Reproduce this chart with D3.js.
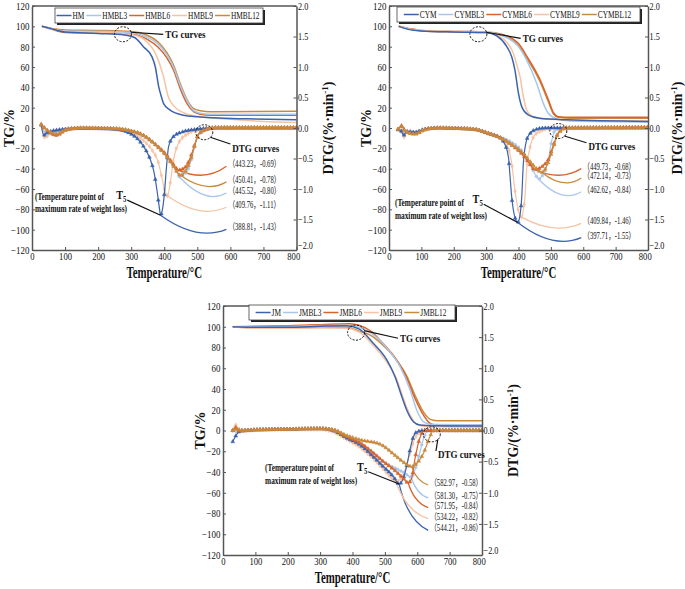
<!DOCTYPE html>
<html><head><meta charset="utf-8">
<script src="https://cdn.jsdelivr.net/npm/d3@7"></script>
<style>
body{margin:0;background:#fff}
svg{display:block}
text{font-family:"Liberation Serif","Times New Roman","Noto Sans CJK SC",serif;fill:#111}
</style>
</head><body>
<svg id="c" width="685" height="589"></svg>
<script>
// ---------------- DATA ----------------
const xTicks = [0,100,200,300,400,500,600,700,800];
const tgTicks = [-120,-100,-80,-60,-40,-20,0,20,40,60,80,100,120];
const dtgTicks = [-2,-1.5,-1,-0.5,0,0.5,1,1.5,2];

const seriesHM = ["HM","HMBL3","HMBL6","HMBL9","HMBL12"];
const seriesCYM = ["CYM","CYMBL3","CYMBL6","CYMBL9","CYMBL12"];
const seriesJM = ["JM","JMBL3","JMBL6","JMBL9","JMBL12"];

// Panel 1 TG (temperature, %)
const HM_TG = [[30,100],[60,97.5],[100,94.5],[200,93],[280,91.5],[310,89],[337,80],[363,70],[373,60],[383,41],[392,30],[398,24],[418,17.5],[458,12.5],[500,11],[550,10],[650,9],[800,8]];
const HMBL3_TG = [[30,100],[60,97.5],[100,95.5],[200,95],[300,94],[350,89],[380,83],[408,72],[428,60],[448,42],[469,27],[489,17],[509,14.5],[540,13.5],[800,13.5]];
const HMBL6_TG = [[30,100],[60,97],[100,94],[200,93.5],[300,92.5],[350,87],[380,80],[408,69],[428,57],[448,39],[469,24],[489,16],[509,13.5],[540,12.5],[800,12.5]];
const HMBL9_TG = [[30,100],[60,97],[100,95],[200,94],[300,92],[340,87],[365,78],[378,70],[398,50],[413,30],[428,22],[458,15],[509,11],[600,8.5],[700,6.5],[800,5.5]];
const HMBL12_TG = [[30,100],[60,98],[100,96.5],[200,96],[300,95],[350,91],[380,85],[408,74],[428,62],[448,44],[469,28],[489,19],[509,17],[540,16],[800,16.5]];
// Panel 1 DTG (temperature, %/min)
const HM_DTG = [[28,0.05],[35,-0.12],[45,-0.08],[60,-0.05],[100,-0.02],[150,-0.005],[250,-0.02],[300,-0.1],[337,-0.3],[358,-0.52],[368,-0.7],[378,-1.02],[385,-1.3],[388.81,-1.43],[394,-1.35],[400,-1.1],[406,-0.69],[413,-0.31],[428,-0.14],[458,-0.06],[500,-0.02],[550,0],[800,0]];
const HMBL3_DTG = [[28,0.05],[45,-0.1],[70,-0.07],[100,-0.02],[150,0],[250,-0.01],[300,-0.05],[330,-0.11],[378,-0.3],[408,-0.46],[428,-0.62],[438,-0.72],[445.52,-0.80],[455,-0.75],[465,-0.74],[480,-0.55],[494,-0.26],[504,-0.11],[529,-0.03],[560,0],[800,0]];
const HMBL6_DTG = [[28,0.06],[50,-0.06],[75,-0.12],[100,-0.04],[150,0],[250,-0.01],[300,-0.05],[330,-0.1],[378,-0.29],[408,-0.45],[428,-0.6],[443.23,-0.69],[460,-0.66],[478,-0.5],[494,-0.24],[504,-0.1],[529,-0.02],[560,0],[800,0]];
const HMBL9_DTG = [[28,0.04],[40,-0.16],[55,-0.08],[100,-0.02],[150,0],[250,-0.02],[300,-0.07],[340,-0.22],[363,-0.36],[383,-0.58],[393,-0.82],[403,-1.05],[409.76,-1.11],[418,-0.91],[428,-0.52],[443,-0.25],[469,-0.1],[500,-0.03],[550,0],[800,0]];
const HMBL12_DTG = [[28,0.05],[50,-0.05],[75,-0.1],[100,-0.03],[150,0],[250,-0.01],[300,-0.05],[330,-0.1],[378,-0.3],[408,-0.47],[428,-0.63],[450.41,-0.78],[465,-0.7],[480,-0.52],[494,-0.25],[504,-0.1],[529,-0.02],[560,0.01],[800,0.01]];
const HM_PEAKS = [[388.81,-1.43],[445.52,-0.80],[443.23,-0.69],[409.76,-1.11],[450.41,-0.78]];

// Panel 2
const CYM_TG = [[30,100],[60,97],[100,95.5],[200,94.5],[300,94],[333,90.5],[364,80],[379,70],[389,57],[400,34],[410,21],[430,13],[466,9.5],[550,8],[800,6.5]];
const CYMBL3_TG = [[30,100],[60,97.5],[100,96],[200,95],[300,94.5],[350,91],[400,80],[425,67],[456,44],[477,24],[492,14.5],[518,9],[560,7],[800,6]];
const CYMBL6_TG = [[30,100],[60,98],[100,96],[200,95],[300,94.5],[350,92],[400,83],[425,71],[466,48],[492,28],[508,15],[523,11],[560,10.5],[800,10.5]];
const CYMBL9_TG = [[30,100],[60,97.5],[100,96],[200,95],[300,94.5],[340,90],[365,84],[384,73.5],[395,62],[405,50],[415,31],[425,18],[446,11],[487,8.5],[600,7.5],[800,7]];
const CYMBL12_TG = [[30,100],[60,97.5],[100,95.5],[200,94.5],[300,94],[350,91],[400,81],[425,69],[466,46],[492,26],[508,14],[523,10.5],[560,9.5],[800,9.5]];
const CYM_DTG = [[28,-0.03],[38,-0.05],[45,-0.12],[55,-0.06],[80,-0.07],[110,-0.02],[150,0],[260,-0.02],[312,-0.1],[343,-0.16],[358,-0.27],[369,-0.48],[374,-0.8],[379,-1.13],[384,-1.34],[391,-1.5],[397.71,-1.55],[404,-1.45],[410,-1.13],[415,-0.58],[425,-0.2],[436,-0.09],[451,-0.03],[480,0],[800,0]];
const CYMBL3_DTG = [[28,-0.02],[40,-0.05],[50,-0.1],[60,-0.05],[80,-0.07],[110,-0.02],[150,0],[260,-0.02],[312,-0.1],[343,-0.15],[374,-0.22],[415,-0.41],[436,-0.6],[456,-0.8],[462.62,-0.84],[470,-0.8],[477,-0.76],[492,-0.52],[503,-0.2],[513,-0.04],[540,0],[800,0]];
const CYMBL6_DTG = [[28,-0.02],[40,0.04],[50,-0.05],[80,-0.1],[110,-0.03],[150,0],[260,-0.02],[312,-0.1],[343,-0.16],[384,-0.3],[415,-0.45],[436,-0.6],[449.73,-0.68],[465,-0.66],[480,-0.6],[492,-0.52],[508,-0.28],[523,-0.08],[549,0],[800,0.01]];
const CYMBL9_DTG = [[28,-0.02],[40,-0.08],[46,-0.15],[55,-0.05],[80,-0.07],[110,-0.02],[150,0],[260,-0.02],[312,-0.09],[343,-0.16],[364,-0.27],[379,-0.58],[389,-1.02],[401,-1.38],[409.84,-1.46],[416,-1.3],[420,-1.13],[425,-0.69],[436,-0.31],[451,-0.11],[477,-0.03],[500,0],[800,0]];
const CYMBL12_DTG = [[28,-0.02],[40,0.02],[50,-0.06],[80,-0.1],[110,-0.03],[150,0],[260,-0.02],[312,-0.1],[343,-0.16],[384,-0.29],[415,-0.42],[436,-0.55],[456,-0.67],[472.14,-0.73],[485,-0.65],[495,-0.52],[508,-0.31],[523,-0.09],[549,0],[800,0.01]];
const CYM_PEAKS = [[397.71,-1.55],[462.62,-0.84],[449.73,-0.68],[409.84,-1.46],[472.14,-0.73]];

// Panel 3
const JM_TG = [[30,100],[100,99.5],[200,99.5],[300,100.5],[380,101],[420,98],[464,84],[506,68],[531,52],[552,33],[567,20],[588,8.5],[608,5.3],[650,4.5],[800,4.3]];
const JMBL3_TG = [[30,100],[100,100],[200,100.3],[300,101.3],[380,101.5],[420,99.5],[470,91],[510,78],[547,61.5],[578,39],[598,20],[619,8.5],[640,6],[800,5.5]];
const JMBL6_TG = [[30,100],[100,100.5],[200,101],[300,102],[390,103],[420,101.5],[460,95],[485,87],[536,68],[567,51],[593,31],[619,15],[639,7],[660,5],[800,4.6]];
const JMBL9_TG = [[30,100],[100,98.5],[200,98.5],[300,98.8],[380,98.5],[420,95],[464,82],[506,66],[536,50],[557,31],[572,19],[592,8],[612,4.5],[650,3.5],[800,3.2]];
const JMBL12_TG = [[30,100],[100,99],[200,99.3],[300,99.5],[380,99.5],[420,96],[460,91],[485,85],[536,68],[567,53],[593,34],[619,18],[639,11],[660,9.5],[800,9.5]];
const JM_DTG = [[30,-0.18],[38,-0.1],[50,-0.02],[70,0],[100,0.01],[200,0.02],[300,0.03],[340,0],[382,-0.12],[423,-0.23],[464,-0.42],[495,-0.58],[526,-0.74],[544.21,-0.86],[556,-0.78],[567,-0.58],[578,-0.3],[588,-0.1],[600,-0.02],[620,0],[800,0]];
const JMBL3_DTG = [[30,0],[45,-0.02],[60,0.01],[100,0.01],[200,0.02],[300,0.03],[340,0.01],[382,-0.1],[423,-0.2],[464,-0.36],[495,-0.5],[530,-0.6],[560,-0.68],[581.30,-0.75],[595,-0.6],[608,-0.35],[620,-0.12],[635,0],[800,0]];
const JMBL6_DTG = [[30,0],[40,0.05],[50,-0.01],[100,0.01],[200,0.02],[300,0.03],[340,0.01],[382,-0.1],[423,-0.2],[464,-0.36],[495,-0.5],[530,-0.64],[555,-0.76],[571.95,-0.84],[582,-0.78],[593,-0.45],[608,-0.12],[624,0],[800,0]];
const JMBL9_DTG = [[30,0],[40,0.09],[48,0],[70,0],[100,0.01],[200,0.02],[300,0.02],[340,-0.02],[382,-0.14],[423,-0.27],[464,-0.45],[495,-0.62],[520,-0.76],[534.22,-0.82],[548,-0.78],[562,-0.64],[578,-0.36],[593,-0.12],[610,-0.02],[630,0],[800,0]];
const JMBL12_DTG = [[30,0],[45,0.02],[60,0],[100,0.01],[200,0.02],[300,0.03],[340,0.01],[382,-0.08],[423,-0.15],[485,-0.22],[536,-0.42],[560,-0.52],[582.97,-0.58],[600,-0.52],[619,-0.37],[639,-0.1],[650,0],[800,0]];
const JM_PEAKS = [[544.21,-0.86],[581.30,-0.75],[571.95,-0.84],[534.22,-0.82],[582.97,-0.58]];

// ---------------- LAYOUT / STYLE ----------------
const colors = ["#3b63ad","#a9c6ec","#d9632a","#f7c3a2","#c88a3e"];
const symbols = [d3.symbolTriangle,d3.symbolCircle,d3.symbolTriangle,d3.symbolDiamond,d3.symbolTriangle];

const panels = [
  {x0:32,x1:296.5,y0:6,y1:250, names:seriesHM,
   tg:[HM_TG,HMBL3_TG,HMBL6_TG,HMBL9_TG,HMBL12_TG],
   dtg:[HM_DTG,HMBL3_DTG,HMBL6_DTG,HMBL9_DTG,HMBL12_DTG],
   peaks:HM_PEAKS, labelT:594, labelTG:[-97.7,-62,-35.7,-76,-51], leaderMode:"sag", rOff:36,
   legend:{x:55,y:8,w:208,h:15},
   tgNote:{c:[275,92.2],t:[403,92]}, dtgNote:{c:[521,-4.2],t:[606,-19.7]},
   t5:{txt:[9,-66.9],lab:[270,-66]}},
  {x0:389,x1:648,y0:6,y1:250, names:seriesCYM,
   tg:[CYM_TG,CYMBL3_TG,CYMBL6_TG,CYMBL9_TG,CYMBL12_TG],
   dtg:[CYM_DTG,CYMBL3_DTG,CYMBL6_DTG,CYMBL9_DTG,CYMBL12_DTG],
   peaks:CYM_PEAKS, labelT:600, labelTG:[-105.9,-60.7,-38,-91.8,-47.2], leaderMode:"sag", rOff:34,
   legend:{x:397,y:7,w:243,h:15},
   tgNote:{c:[276,92.2],t:[413,88.2]}, dtgNote:{c:[523,-3],t:[616,-18.4]},
   t5:{txt:[18.5,-73.5],lab:[274,-70]}},
  {x0:223,x1:482,y0:306,y1:555, names:seriesJM,
   tg:[JM_TG,JMBL3_TG,JMBL6_TG,JMBL9_TG,JMBL12_TG],
   dtg:[JM_DTG,JMBL3_DTG,JMBL6_DTG,JMBL9_DTG,JMBL12_DTG],
   peaks:JM_PEAKS, labelT:640, labelTG:[-94.3,-63.1,-72.5,-83.1,-50.6], leaderMode:"drop", rOff:36,
   legend:{x:249,y:305,w:206,h:15},
   tgNote:{c:[411,94.3],t:[547,88.9]}, dtgNote:{c:[645,-3.7],t:[664,-23.6]},
   t5:{txt:[130,-35.9],lab:[430,-35]}}
];

const svg = d3.select("#c");

function htext(g,x,y,s,size,weight,anchor,sx){
  return g.append("text").attr("transform",`translate(${x},${y}) scale(${sx},1)`)
    .attr("font-size",size).attr("font-weight",weight||"normal")
    .attr("text-anchor",anchor||"start").text(s);
}

function sampleMarkers(node, step){
  const L = node.getTotalLength(); const pts=[]; let nx=null;
  for(let l=0;l<=L;l+=0.5){
    const p=node.getPointAtLength(l);
    if(nx===null){pts.push([p.x,p.y]); nx=p.x+step;}
    else if(p.x>=nx){pts.push([p.x,p.y]); while(p.x>=nx) nx+=step;}
  }
  return pts;
}

panels.forEach((P,pi)=>{
  const x=d3.scaleLinear().domain([0,800]).range([P.x0,P.x1]);
  const yL=d3.scaleLinear().domain([-120,120]).range([P.y1,P.y0]);
  const yR=d3.scaleLinear().domain([-2,2]).range([P.y1,P.y0]);
  const g=svg.append("g");

  const lineTG=d3.line().x(d=>x(d[0])).y(d=>yL(d[1])).curve(d3.curveMonotoneX);
  const lineD=d3.line().x(d=>x(d[0])).y(d=>yR(d[1])).curve(d3.curveMonotoneX);

  // TG curves
  [4,2,1,3,0].forEach(i=>{
    g.append("path").attr("d",lineTG(P.tg[i])).attr("fill","none")
      .attr("stroke",colors[i]).attr("stroke-width",1.5);
  });

  // leaders from peak to value labels
  const lg=g.append("g");
  P.peaks.forEach((pk,i)=>{
    const p0=[x(pk[0]),yR(pk[1])];
    const p2=[x(P.labelT)-2,yL(P.labelTG[i])+2];
    const dx=p2[0]-p0[0], dy=p2[1]-p0[1];
    let c;
    if(P.leaderMode==="sag") c=[p0[0]+0.55*dx, Math.max(p0[1],p2[1])+12];
    else c=[p0[0]+0.3*dx, p0[1]+0.8*dy];
    const path=d3.path(); path.moveTo(p0[0],p0[1]); path.quadraticCurveTo(c[0],c[1],p2[0],p2[1]);
    lg.append("path").attr("d",path.toString()).attr("fill","none")
      .attr("stroke",colors[i]).attr("stroke-width",1.3);
    htext(g,x(P.labelT),yL(P.labelTG[i])+3,`（${pk[0].toFixed(2)}，${pk[1].toFixed(2)}）`,9.5,"normal","start",0.7);
  });

  // DTG curves with markers
  [3,1,0,2,4].forEach(i=>{
    const pth=g.append("path").attr("d",lineD(P.dtg[i])).attr("fill","none")
      .attr("stroke",colors[i]).attr("stroke-width",1.2);
    const pts=sampleMarkers(pth.node(),3);
    const sym=d3.symbol().type(symbols[i]).size(6);
    g.append("g").selectAll("path").data(pts).join("path")
      .attr("transform",d=>`translate(${d[0]},${d[1]})`).attr("d",sym())
      .attr("fill",colors[i]).attr("stroke",colors[i]).attr("stroke-width",0.5);
  });

  // Axes
  const axCol="#555";
  const styleAx=(sel)=>{
    sel.select(".domain").attr("stroke",axCol).attr("stroke-width",1.5);
    sel.selectAll(".tick line").attr("stroke",axCol).attr("stroke-width",1);
    sel.selectAll("text").attr("font-family",'"Liberation Serif",serif').attr("font-size",10.5).attr("fill","#333");
  };
  const gl=g.append("g").attr("transform",`translate(${P.x0},0)`)
    .call(d3.axisLeft(yL).tickValues(tgTicks).tickSizeInner(-3).tickSizeOuter(0).tickPadding(3));
  styleAx(gl); gl.selectAll("text").attr("transform","scale(0.85,1)");
  const gr=g.append("g").attr("transform",`translate(${P.x1},0)`)
    .call(d3.axisRight(yR).tickValues(dtgTicks).tickFormat(d3.format(".1f")).tickSizeInner(-3).tickSizeOuter(0).tickPadding(2));
  styleAx(gr); gr.selectAll("text").attr("transform","scale(0.78,1)");
  gr.selectAll(".tick").filter(d=>d===-2).select("text").attr("dy","-0.1em");
  const gb=g.append("g").attr("transform",`translate(0,${P.y1})`)
    .call(d3.axisBottom(x).tickValues(xTicks).tickSizeInner(-3).tickSizeOuter(0).tickPadding(3));
  styleAx(gb); gb.selectAll("text").attr("transform","scale(0.82,1)");
  gb.selectAll(".tick").filter(d=>d===800).select("text").attr("x",-4);
  g.append("line").attr("x1",P.x0).attr("x2",P.x1).attr("y1",P.y0).attr("y2",P.y0)
    .attr("stroke",axCol).attr("stroke-width",1.5);

  // Axis titles
  g.append("text").attr("transform",`translate(${P.x0-18},${(P.y0+P.y1)/2}) rotate(-90)`)
    .attr("text-anchor","middle").attr("font-size",14).attr("font-weight","bold").text("TG/%");
  const rt=g.append("text").attr("transform",`translate(${P.x1+P.rOff},${(P.y0+P.y1)/2}) rotate(-90)`)
    .attr("text-anchor","middle").attr("font-size",14).attr("font-weight","bold");
  rt.append("tspan").text("DTG/(%·min");
  rt.append("tspan").attr("dy",-5).attr("font-size",9).text("-1");
  rt.append("tspan").attr("dy",5).text(")");
  htext(g,(P.x0+P.x1)/2,P.y1+28,"Temperature/°C",16,"bold","middle",0.68);

  // Legend
  const L=P.legend;
  const lgG=g.append("g");
  lgG.append("rect").attr("x",L.x+2).attr("y",L.y+2).attr("width",L.w).attr("height",L.h).attr("fill","#222");
  lgG.append("rect").attr("x",L.x).attr("y",L.y).attr("width",L.w).attr("height",L.h).attr("fill","#fff").attr("stroke","#444").attr("stroke-width",0.8);
  const items=[]; let total=0;
  P.names.forEach((n,i)=>{
    const t=htext(lgG,0,0,n,10.5,"normal","start",0.7);
    const w=t.node().getComputedTextLength()*0.7;
    items.push({t,w}); total+=15+1+w+2;
  });
  let cx=L.x+(L.w-total)/2;
  items.forEach((it,i)=>{
    lgG.append("line").attr("x1",cx).attr("x2",cx+15).attr("y1",L.y+L.h/2).attr("y2",L.y+L.h/2)
      .attr("stroke",colors[i]).attr("stroke-width",1.5);
    it.t.attr("transform",`translate(${cx+16},${L.y+L.h/2+3.5}) scale(0.7,1)`);
    cx+=15+1+it.w+2;
  });

  // TG curves note
  const tn=P.tgNote;
  const cxp=x(tn.c[0]), cyp=yL(tn.c[1]);
  g.append("ellipse").attr("cx",cxp).attr("cy",cyp).attr("rx",8.5).attr("ry",7.5)
    .attr("fill","none").attr("stroke","#111").attr("stroke-width",1).attr("stroke-dasharray","2,1.5");
  g.append("line").attr("x1",cxp+8).attr("y1",cyp-2).attr("x2",x(tn.t[0])-2).attr("y2",yL(tn.t[1]))
    .attr("stroke","#111").attr("stroke-width",1.2);
  htext(g,x(tn.t[0]),yL(tn.t[1])+3.5,"TG curves",11,"bold","start",0.82);

  const dn=P.dtgNote;
  const dxp=x(dn.c[0]), dyp=yL(dn.c[1]);
  g.append("ellipse").attr("cx",dxp).attr("cy",dyp).attr("rx",8.5).attr("ry",7.5)
    .attr("fill","none").attr("stroke","#111").attr("stroke-width",1).attr("stroke-dasharray","2,1.5");
  g.append("line").attr("x1",dxp+6).attr("y1",dyp+5).attr("x2",x(dn.t[0])-2).attr("y2",yL(dn.t[1])-4)
    .attr("stroke","#111").attr("stroke-width",1.2);
  htext(g,x(dn.t[0]),yL(dn.t[1])+3.5,"DTG curves",11,"bold","start",0.82);

  // T5 annotation
  const t5=P.t5;
  htext(g,x(t5.txt[0]),yL(t5.txt[1])+3.5,"(Temperature point of",10,"bold","start",0.73);
  htext(g,x(t5.txt[0]),yL(t5.txt[1])+3.5+12.5,"maximum rate of weight loss)",10,"bold","start",0.73);
  const tl=g.append("text").attr("transform",`translate(${x(t5.lab[0])},${yL(t5.lab[1])+4}) scale(0.85,1)`)
    .attr("font-size",12).attr("font-weight","bold").attr("text-anchor","middle");
  tl.append("tspan").text("T");
  tl.append("tspan").attr("dy",3).attr("font-size",8).text("5");
  const pk=P.peaks[0];
  g.append("line").attr("x1",x(t5.lab[0])+6).attr("y1",yL(t5.lab[1])+5)
    .attr("x2",x(pk[0])).attr("y2",yR(pk[1])).attr("stroke","#111").attr("stroke-width",1.2);
});
</script>
</body></html>
